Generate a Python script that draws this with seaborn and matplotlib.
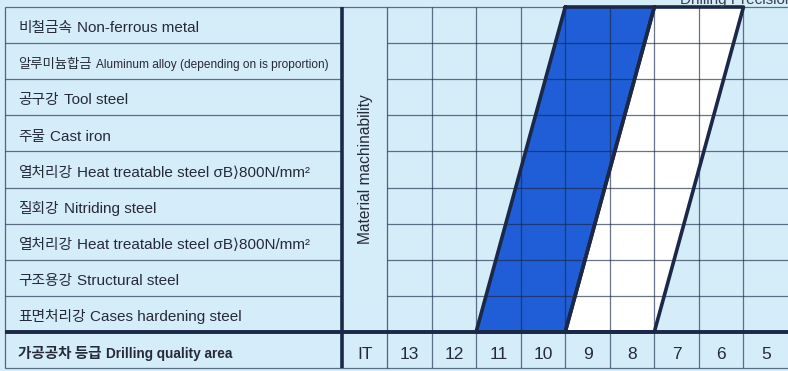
import matplotlib
matplotlib.use("Agg")
import matplotlib.pyplot as plt
import pandas as pd
import seaborn as sns

# --- data: table rows (top to bottom) and IT grade columns ---
materials_kr = ["비철금속", "알루미늄합금", "공구강", "주물", "열처리강",
                "질회강", "열처리강", "구조용강", "표면처리강"]
materials_en = ["Non-ferrous metal",
                "Aluminum alloy (depending on is proportion)",
                "Tool steel",
                "Cast iron",
                "Heat treatable steel σB\u27e9800N/mm²",
                "Nitriding steel",
                "Heat treatable steel σB\u27e9800N/mm²",
                "Structural steel",
                "Cases hardening steel"]
it_grades = [13, 12, 11, 10, 9, 8, 7, 6, 5]

# IT grades covered by each band on the first and on the last material row
blue_top = [9, 8]
blue_bottom = [11, 10]
white_top = [7, 6]
white_bottom = [9, 8]

footer_kr = "가공공차 등급"
footer_en = "Drilling quality area"
axis_name = "Material machinability"
corner_label = "IT"
top_note = "Drilling Precision"

# --- style ---
BG = "#d5edf9"
BLUE = "#1f5ed6"
NAVY = "#1b2848"
TXT = "#262a36"

sns.set_theme(style="white")
latin_fam = ["Liberation Sans", "DejaVu Sans", "Noto Sans CJK KR"]
kr_fam = ["Noto Sans CJK KR", "DejaVu Sans"]
plt.rcParams["font.family"] = latin_fam

W, H = 788, 371
fig = plt.figure(figsize=(W / 100, H / 100), dpi=100, facecolor=BG)

# table layout in pixels
left, lab_right, mach_right, top, bottom = 5, 342, 387, 7, 368
n = len(materials_kr)
n_rows = n + 1  # material rows + IT row


def frac(x0, x1, y0, y1):
    return [x0 / W, 1 - y1 / H, (x1 - x0) / W, (y1 - y0) / H]


# grid part: x in columns, y in rows
ax = fig.add_axes(frac(mach_right, W, top, bottom))
ax.set_xlim(0, len(it_grades))
ax.set_ylim(n_rows, 0)
ax.axis("off")

col = {g: i for i, g in enumerate(it_grades)}


def band(top_g, bot_g):
    xs = [col[top_g[0]], col[top_g[-1]] + 1, col[bot_g[-1]] + 1, col[bot_g[0]]]
    ys = [0, 0, n, n]
    return xs, ys


bands = {"blue": band(blue_top, blue_bottom), "white": band(white_top, white_bottom)}
ax.fill(*bands["blue"], color=BLUE, zorder=1, lw=0)
ax.fill(*bands["white"], color="white", zorder=1, lw=0)

# cell grid
ax.vlines(range(1, len(it_grades)), 0, n_rows, color=NAVY, lw=0.9, alpha=0.65, zorder=2)
ax.hlines(range(1, n), 0, len(it_grades), color=NAVY, lw=0.9, alpha=0.65, zorder=2)

# band outlines
rows = []
for name, (xs, ys) in bands.items():
    for k in range(len(xs) + 1):
        rows.append({"band": name, "order": k, "x": xs[k % len(xs)], "y": ys[k % len(ys)]})
outline = pd.DataFrame(rows)
sns.lineplot(data=outline, x="x", y="y", units="band", estimator=None, sort=False,
             color=NAVY, lw=2.6, ax=ax, legend=False, zorder=3)
for ln in ax.lines:
    ln.set_clip_on(False)
ax.axis("off")

# IT grade labels
for g in it_grades:
    ax.text(col[g] + 0.5, n + 0.76, str(g), ha="center", va="baseline",
            fontsize=12.5, color=TXT, family=latin_fam)

# label part: x in pixels, y in rows
lab = fig.add_axes(frac(left, mach_right, top, bottom))
lab.set_xlim(left, mach_right)
lab.set_ylim(n_rows, 0)
lab.axis("off")
lab.patch.set_alpha(0)

line_kw = dict(color=NAVY, clip_on=False)
lab.hlines(range(1, n), left, lab_right, lw=0.9, alpha=0.65, **line_kw)
lab.vlines(left, 0, n_rows, lw=0.9, alpha=0.7, **line_kw)
lab.vlines(mach_right, 0, n_rows, lw=0.9, alpha=0.7, **line_kw)
lab.vlines(lab_right, 0, n_rows, lw=2.6, **line_kw)
lab.hlines(0, left, W, lw=0.9, alpha=0.65, **line_kw)
lab.hlines(n_rows, left, W, lw=0.9, alpha=0.65, **line_kw)
lab.hlines(n, left, W, lw=2.8, **line_kw)

renderer = fig.canvas.get_renderer()


def label(y, kr, en, kr_size, en_size, weight="normal"):
    t = lab.text(18, y, kr, ha="left", va="baseline", fontsize=kr_size,
                 family=kr_fam, color=TXT, fontweight=weight)
    bb = t.get_window_extent(renderer)
    x1 = lab.transData.inverted().transform((bb.x1, 0))[0]
    lab.text(x1 + 5, y, en, ha="left", va="baseline", fontsize=en_size,
             family=latin_fam, color=TXT, fontweight=weight)


for i, (kr, en) in enumerate(zip(materials_kr, materials_en)):
    if len(en) > 30 and "σ" not in en:
        label(i + 0.70, kr, en, 9.6, 8.6)  # the long row is set condensed
    else:
        label(i + 0.70, kr, en, 10.6, 11)

label(n + 0.72, footer_kr, footer_en, 10.5, 9.8, weight="bold")

lab.text((lab_right + mach_right) / 2 + 1, n / 2, axis_name, rotation=90,
         ha="center", va="center", fontsize=11.2, color=TXT, family=latin_fam)
lab.text((lab_right + mach_right) / 2 + 1, n + 0.76, corner_label, ha="center",
         va="baseline", fontsize=12.5, color=TXT, family=latin_fam)

fig.text(680 / W, 1 - 4 / H, top_note, ha="left", va="baseline", fontsize=11,
         color="#3a3f4c", family=latin_fam)

fig.savefig("out.png", dpi=100, facecolor=BG)
